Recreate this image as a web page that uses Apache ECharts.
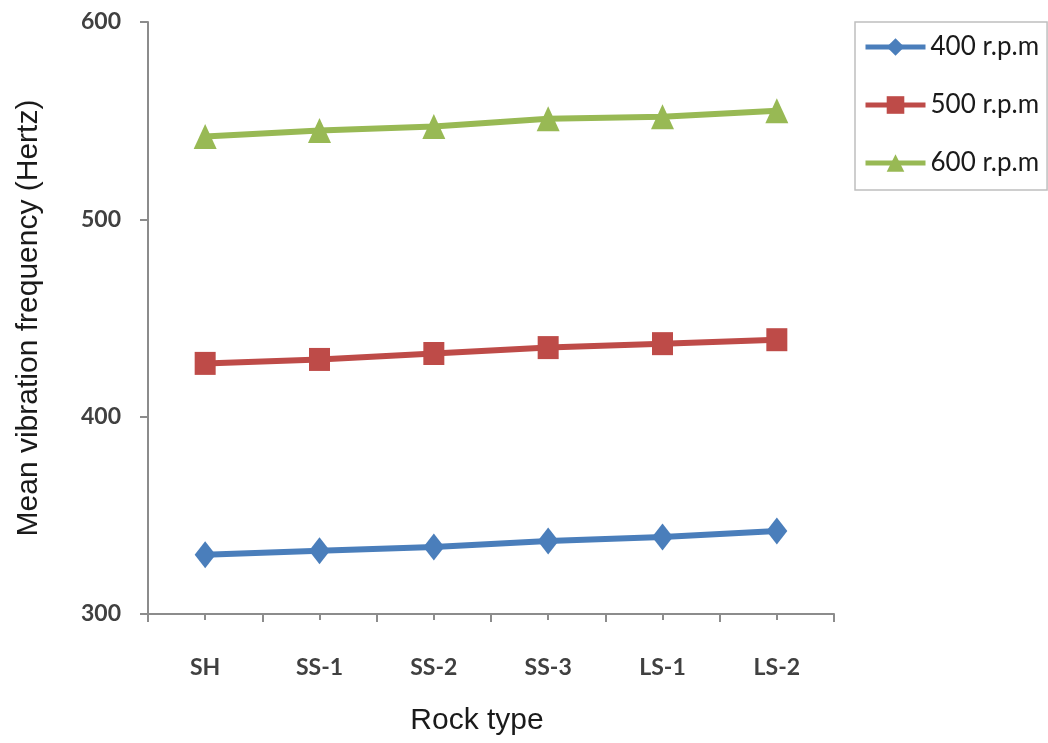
<!DOCTYPE html>
<html><head><meta charset="utf-8">
<script src="https://cdn.jsdelivr.net/npm/echarts@6/dist/echarts.min.js"></script>
<style>html,body{margin:0;padding:0;background:#fff}#c{width:1048px;height:743px}</style>
</head><body><div id="c"></div>
<script>
const categories = ['SH', 'SS-1', 'SS-2', 'SS-3', 'LS-1', 'LS-2'];
const rpm400 = [330, 332, 334, 337, 339, 342];
const rpm500 = [427, 429, 432, 435, 437, 439];
const rpm600 = [542, 545, 547, 551, 552, 555];
const seriesNames = ['400 r.p.m', '500 r.p.m', '600 r.p.m'];
const yTicks = [300, 400, 500, 600];

const chart = echarts.init(document.getElementById('c'), null, {renderer: 'canvas'});
const axisColor = '#8c8c8c';
const labelFont = {fontFamily: 'Lato', fontWeight: 'bold', fontSize: 23, color: '#404040'};
function mk(name, data, color, symbol, size) {
  return {name, type: 'line', data, xAxisIndex: 0,
    lineStyle: {color, width: 6}, itemStyle: {color},
    symbol, symbolSize: size, showSymbol: true, animation: false};
}
chart.setOption({
  animation: false,
  grid: {left: 148, right: 214, top: 22, bottom: 129},
  legend: {
    orient: 'vertical', left: 855, top: 22, width: 188,
    padding: [12, 8, 14, 8], itemGap: 32, itemWidth: 60, itemHeight: 22,
    borderColor: '#bfbfbf', borderWidth: 1.5,
    lineStyle: {width: 5},
    textStyle: {fontFamily: 'Lato', fontSize: 26, color: '#1a1a1a', padding: [0, 0, 0, 0]},
    data: seriesNames
  },
  xAxis: [{
    type: 'category', data: categories, boundaryGap: true,
    name: 'Rock type', nameLocation: 'middle', nameGap: 92,
    nameTextStyle: {fontFamily: 'Arial', fontSize: 30, color: '#1a1a1a', padding: [0, 28, 0, 0]},
    axisLine: {lineStyle: {color: axisColor, width: 2}},
    axisTick: {show: true, length: 8, lineStyle: {color: axisColor, width: 2}},
    axisLabel: Object.assign({margin: 42}, labelFont)
  }, {
    type: 'category', data: categories, position: 'bottom', offset: 0,
    axisLine: {show: false}, axisLabel: {show: false},
    axisTick: {show: true, alignWithLabel: true, length: 6, lineStyle: {color: axisColor, width: 2}}
  }],
  yAxis: {
    type: 'value', min: yTicks[0], max: yTicks[yTicks.length - 1], interval: 100,
    name: 'Mean vibration frequency (Hertz)', nameLocation: 'middle', nameGap: 104, nameRotate: 90,
    nameTextStyle: {fontFamily: 'Arial', fontSize: 30, color: '#1a1a1a'},
    axisLine: {show: true, lineStyle: {color: axisColor, width: 2}},
    axisTick: {show: true, length: 8, lineStyle: {color: axisColor, width: 2}},
    splitLine: {show: false},
    axisLabel: Object.assign({margin: 27}, labelFont)
  },
  series: [
    mk(seriesNames[0], rpm400, '#4a7ebb', 'diamond', [21, 27]),
    mk(seriesNames[1], rpm500, '#be4b48', 'rect', [21, 23]),
    mk(seriesNames[2], rpm600, '#98b954', 'triangle', [23, 25])
  ]
});
</script></body></html>
